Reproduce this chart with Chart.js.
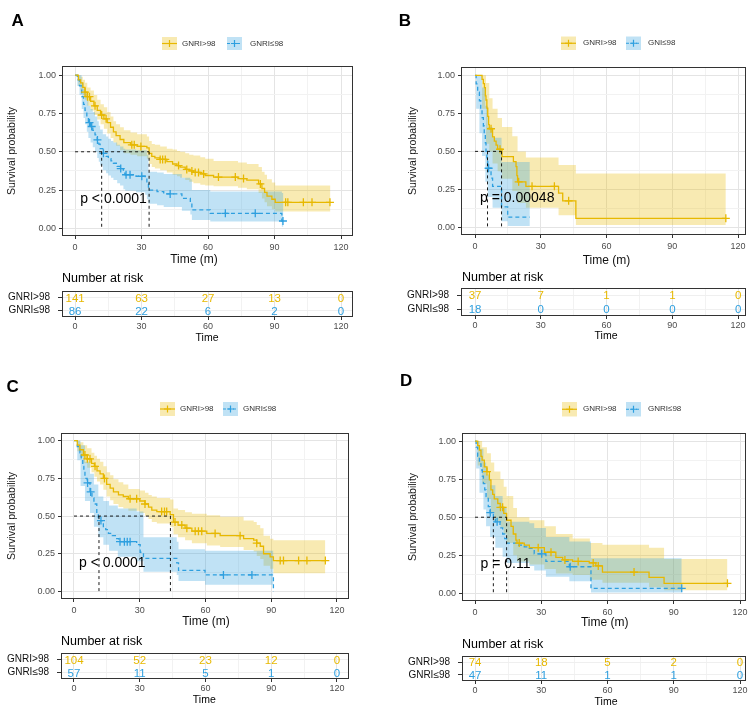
<!DOCTYPE html>
<html><head><meta charset="utf-8">
<script src="https://cdn.jsdelivr.net/npm/chart.js@4.4.1/dist/chart.umd.min.js"></script>
<style>
html,body{margin:0;padding:0;background:#fff;}
body{width:753px;height:707px;position:relative;overflow:hidden;}
canvas{position:absolute;}
</style></head><body>
<canvas id="mA"></canvas><canvas id="rA"></canvas>
<canvas id="mB"></canvas><canvas id="rB"></canvas>
<canvas id="mC"></canvas><canvas id="rC"></canvas>
<canvas id="mD"></canvas><canvas id="rD"></canvas>
<script>
// ---------- DATA ----------
const timeTicks = [0, 30, 60, 90, 120];
const xGrid = [0, 15, 30, 45, 60, 75, 90, 105, 120];
const yGrid = [0, 0.125, 0.25, 0.375, 0.5, 0.625, 0.75, 0.875, 1];
const rowLabels = ['GNRI>98', 'GNRI≤98'];

// Panel A
const aHiT = [0, 1.5, 2.5, 3.5, 4.5, 5.5, 7, 8.5, 10, 11.5, 13, 14.5, 16, 17.3, 18.5, 20.3, 22, 25, 28, 32.4, 33.4, 34.6, 36, 38.4, 41.4, 44, 46, 47.4, 49.7, 51.5, 53.4, 56.5, 58.7, 62.5, 73.5, 77.5, 82.8, 84.3, 85.5, 86.6, 88.8, 90.3, 115.2];
const aHiS = [1, 0.97, 0.95, 0.92, 0.89, 0.86, 0.83, 0.8, 0.77, 0.74, 0.715, 0.69, 0.66, 0.63, 0.605, 0.58, 0.56, 0.545, 0.535, 0.525, 0.49, 0.47, 0.46, 0.45, 0.435, 0.42, 0.41, 0.4, 0.385, 0.375, 0.365, 0.355, 0.345, 0.335, 0.325, 0.315, 0.29, 0.26, 0.235, 0.21, 0.19, 0.17, 0.17];
const aHiC = [4.5, 5.6, 6.5, 9, 12, 14, 25.6, 26.7, 29.7, 38.4, 39.5, 40.7, 46.7, 50.4, 52.7, 54.2, 55.7, 58, 64.7, 72.3, 76, 83.6, 95, 96, 103, 106.9, 115];
const aHiBandT = [0, 1.5, 2.5, 3.5, 4.5, 5.5, 7, 8.5, 10, 11.5, 13, 14.5, 16, 17.3, 18.5, 20.3, 22, 25, 28, 32.4, 33.4, 34.6, 36, 38.4, 41.4, 44, 46, 47.4, 49.7, 51.5, 53.4, 56.5, 58.7, 62.5, 73.5, 77.5, 82.8, 84.3, 85.5, 86.6, 88.8, 90.3, 115.2];
const aHiUp = [1, 1, 0.99, 0.97, 0.95, 0.92, 0.9, 0.87, 0.84, 0.81, 0.79, 0.76, 0.73, 0.7, 0.68, 0.66, 0.64, 0.625, 0.615, 0.6, 0.57, 0.55, 0.545, 0.535, 0.52, 0.515, 0.505, 0.5, 0.49, 0.48, 0.475, 0.465, 0.455, 0.44, 0.43, 0.42, 0.4, 0.37, 0.35, 0.32, 0.3, 0.28, 0.28];
const aHiLo = [1, 0.93, 0.9, 0.87, 0.84, 0.8, 0.77, 0.74, 0.71, 0.68, 0.65, 0.62, 0.59, 0.56, 0.54, 0.51, 0.49, 0.48, 0.47, 0.455, 0.42, 0.4, 0.39, 0.38, 0.365, 0.35, 0.34, 0.33, 0.315, 0.305, 0.295, 0.285, 0.28, 0.275, 0.265, 0.255, 0.23, 0.195, 0.17, 0.145, 0.125, 0.11, 0.11];
const aLoT = [0, 1, 2, 3, 3.8, 4.5, 5.3, 6, 7, 8, 9, 10, 10.7, 11.3, 12.5, 14, 15, 16.2, 17.3, 19, 20.3, 21.8, 22.6, 27.5, 31.6, 32.4, 33.1, 37, 40, 48.2, 52, 52.7, 61, 93.3, 94];
const aLoS = [1, 0.97, 0.93, 0.86, 0.81, 0.77, 0.73, 0.69, 0.665, 0.64, 0.61, 0.577, 0.55, 0.52, 0.49, 0.47, 0.455, 0.44, 0.425, 0.405, 0.39, 0.36, 0.35, 0.34, 0.327, 0.29, 0.25, 0.24, 0.225, 0.196, 0.163, 0.12, 0.098, 0.048, 0.048];
const aLoC = [6.5, 7.5, 10.1, 12.8, 20.6, 23, 24.8, 30.1, 42.9, 67.8, 81.3, 93.8];
const aLoBandT = [0, 1, 2, 3, 3.8, 4.5, 5.3, 6, 7, 8, 9, 10, 10.7, 11.3, 12.5, 14, 15, 16.2, 17.3, 19, 20.3, 21.8, 22.6, 27.5, 31.6, 32.4, 33.1, 37, 40, 48.2, 52, 52.7, 61, 93.3, 94];
const aLoUp = [1, 1, 1, 0.95, 0.91, 0.88, 0.84, 0.8, 0.78, 0.76, 0.73, 0.7, 0.67, 0.645, 0.615, 0.6, 0.585, 0.57, 0.56, 0.545, 0.535, 0.52, 0.515, 0.51, 0.51, 0.48, 0.37, 0.365, 0.355, 0.33, 0.32, 0.25, 0.24, 0.23, 0.23];
const aLoLo = [1, 0.93, 0.87, 0.78, 0.72, 0.68, 0.63, 0.59, 0.56, 0.53, 0.5, 0.46, 0.435, 0.41, 0.38, 0.36, 0.345, 0.33, 0.315, 0.295, 0.28, 0.255, 0.245, 0.235, 0.22, 0.19, 0.16, 0.15, 0.14, 0.115, 0.09, 0.055, 0.045, 0.01, 0.01];
const aMed = [33.4, 12.0];
const riskAHi = [141, 63, 27, 13, 0];
const riskALo = [86, 22, 6, 2, 0];

// Panel B
const bHiT = [0, 3.2, 3.8, 4.3, 4.7, 5.0, 5.4, 5.8, 6.2, 6.5, 8.0, 8.8, 9.6, 10.3, 12.3, 17.5, 18.7, 19.1, 19.4, 23.2, 38.1, 40, 46, 114.4];
const bHiS = [1, 0.973, 0.946, 0.919, 0.865, 0.838, 0.784, 0.73, 0.676, 0.649, 0.595, 0.568, 0.541, 0.514, 0.465, 0.432, 0.4, 0.34, 0.3, 0.27, 0.225, 0.175, 0.06, 0.06];
const bHiC = [7.3, 11.4, 19.9, 26, 36.2, 42.7, 114.4];
const bHiBandT = [0, 3.2, 5, 6.5, 8, 10.3, 12.3, 17, 19.4, 23.2, 38.1, 46, 114.4];
const bHiUp = [1, 1, 0.95, 0.85, 0.78, 0.72, 0.66, 0.6, 0.5, 0.46, 0.41, 0.355, 0.355];
const bHiLo = [1, 0.78, 0.55, 0.5, 0.42, 0.37, 0.32, 0.24, 0.16, 0.13, 0.08, 0.015, 0.015];
const bLoT = [0, 0.5, 1.2, 2, 2.6, 3.2, 3.8, 4.2, 4.7, 5.0, 5.4, 5.8, 7.3, 8.0, 12.1, 14.9, 25];
const bLoS = [1, 0.944, 0.889, 0.833, 0.778, 0.722, 0.667, 0.611, 0.556, 0.5, 0.444, 0.389, 0.324, 0.27, 0.135, 0.068, 0.068];
const bLoC = [6.2];
const bLoBandT = [0, 0.5, 2, 3.2, 4.7, 5.8, 8, 12.1, 14.9, 25];
const bLoUp = [1, 1, 1, 0.92, 0.8, 0.66, 0.59, 0.43, 0.43, 0.43];
const bLoLo = [1, 0.78, 0.62, 0.47, 0.3, 0.2, 0.13, 0.04, 0.01, 0.01];
const bMed = [12.1, 5.7];
const riskBHi = [37, 7, 1, 1, 0];
const riskBLo = [18, 0, 0, 0, 0];

// Panel C
const cHiT = [0, 1.5, 2.7, 4.3, 6, 8, 9.3, 10.5, 11.9, 13.4, 14.9, 16.5, 18, 20.3, 22.5, 24.8, 30, 32.4, 34, 35.5, 37.8, 43.9, 45.4, 47.5, 50.7, 53.8, 60.6, 66.7, 77.4, 82, 83.4, 85, 86.5, 89.5, 91, 114.7];
const cHiS = [1, 0.97, 0.94, 0.905, 0.88, 0.85, 0.83, 0.8, 0.78, 0.75, 0.71, 0.685, 0.66, 0.64, 0.63, 0.615, 0.6, 0.58, 0.56, 0.54, 0.53, 0.51, 0.46, 0.44, 0.42, 0.4, 0.385, 0.37, 0.35, 0.34, 0.32, 0.3, 0.25, 0.23, 0.205, 0.205];
const cHiC = [5, 6.1, 7.3, 9.6, 13.9, 25.6, 28.6, 32.4, 40, 41.3, 42.3, 46.1, 49.2, 51.5, 55.3, 56.8, 58.3, 64.4, 75.8, 83.4, 94.1, 95.6, 102.5, 106.3, 114.7];
const cHiBandT = [0, 1.5, 2.7, 4.3, 6, 8, 9.3, 10.5, 11.9, 13.4, 14.9, 16.5, 18, 20.3, 22.5, 24.8, 30, 32.4, 34, 35.5, 37.8, 43.9, 45.4, 47.5, 50.7, 53.8, 60.6, 66.7, 77.4, 82, 83.4, 85, 86.5, 89.5, 91, 114.7];
const cHiUp = [1, 1, 0.99, 0.97, 0.95, 0.92, 0.9, 0.88, 0.86, 0.83, 0.79, 0.77, 0.745, 0.725, 0.71, 0.68, 0.67, 0.655, 0.64, 0.63, 0.62, 0.61, 0.55, 0.54, 0.525, 0.515, 0.505, 0.495, 0.47, 0.46, 0.44, 0.42, 0.37, 0.35, 0.34, 0.34];
const cHiLo = [1, 0.93, 0.89, 0.85, 0.82, 0.79, 0.76, 0.73, 0.71, 0.675, 0.63, 0.605, 0.58, 0.56, 0.55, 0.535, 0.52, 0.5, 0.48, 0.46, 0.45, 0.43, 0.38, 0.36, 0.34, 0.32, 0.305, 0.295, 0.275, 0.265, 0.235, 0.215, 0.17, 0.15, 0.12, 0.12];
const cLoT = [0, 1.5, 2.7, 3.3, 4, 4.5, 5, 6, 7.3, 8.2, 9.1, 10.4, 11.1, 13.4, 14.5, 15.7, 17.5, 19.5, 20.5, 28.6, 30.2, 31.7, 46.9, 47.7, 59.8, 91];
const cLoS = [1, 0.96, 0.92, 0.875, 0.83, 0.79, 0.75, 0.72, 0.66, 0.62, 0.58, 0.52, 0.47, 0.43, 0.41, 0.385, 0.37, 0.35, 0.33, 0.31, 0.26, 0.22, 0.19, 0.14, 0.11, 0];
const cLoC = [6.2, 7.6, 12.3, 21, 23, 24.3, 25.6, 68.2, 81.2];
const cLoBandT = [0, 1.5, 3, 5, 7.3, 9.1, 11.1, 13.4, 16, 20, 28.6, 31.7, 46.9, 47.7, 59.8, 91];
const cLoUp = [1, 1, 0.97, 0.86, 0.78, 0.71, 0.63, 0.6, 0.57, 0.55, 0.53, 0.36, 0.33, 0.28, 0.27, 0.27];
const cLoLo = [1, 0.87, 0.7, 0.6, 0.52, 0.43, 0.36, 0.31, 0.27, 0.23, 0.2, 0.13, 0.11, 0.07, 0.045, 0.045];
const cMed = [44, 11.4];
const riskCHi = [104, 52, 23, 12, 0];
const riskCLo = [57, 11, 5, 1, 0];

// Panel D
const dHiT = [0, 1.2, 2, 2.7, 3.2, 4.2, 5.4, 6.5, 7.2, 8, 8.7, 10.3, 11.5, 13, 14.3, 16.3, 17.3, 18.5, 19, 22.3, 24.6, 31.4, 36.6, 39.7, 44.2, 51.7, 54.7, 57.7, 78.8, 85.6, 114.3];
const dHiS = [1, 0.97, 0.94, 0.9, 0.875, 0.83, 0.8, 0.745, 0.68, 0.65, 0.62, 0.59, 0.565, 0.525, 0.48, 0.44, 0.39, 0.35, 0.33, 0.317, 0.3, 0.27, 0.236, 0.22, 0.21, 0.2, 0.18, 0.14, 0.105, 0.066, 0.066];
const dHiC = [5.4, 11.5, 12.5, 20, 28.6, 34.4, 40.7, 46.7, 53.5, 55.8, 72, 114.3];
const dHiBandT = [0, 1.2, 3.2, 5.4, 7.2, 8.7, 11.5, 13, 14.3, 17.3, 19, 24.6, 31.4, 36.6, 44.2, 52, 57.7, 78.8, 85.6, 114.3];
const dHiUp = [1, 1, 0.96, 0.92, 0.86, 0.8, 0.75, 0.7, 0.64, 0.56, 0.5, 0.48, 0.44, 0.39, 0.36, 0.33, 0.32, 0.3, 0.225, 0.225];
const dHiLo = [1, 0.84, 0.72, 0.62, 0.53, 0.47, 0.43, 0.39, 0.33, 0.25, 0.21, 0.19, 0.16, 0.13, 0.12, 0.09, 0.07, 0.04, 0.02, 0.02];
const dLoT = [0, 0.5, 1.2, 2, 2.7, 3.3, 3.8, 4.4, 5, 6, 6.8, 8.3, 9.2, 11.3, 12.5, 13.4, 14.3, 19.3, 22.3, 24.6, 26.8, 32.1, 42.7, 52.5, 93.6];
const dLoS = [1, 0.96, 0.9, 0.85, 0.81, 0.77, 0.72, 0.68, 0.635, 0.57, 0.53, 0.5, 0.47, 0.43, 0.39, 0.36, 0.33, 0.317, 0.306, 0.295, 0.26, 0.21, 0.175, 0.033, 0.033];
const dLoC = [6.9, 10, 30.2, 43.1, 93.6];
const dLoBandT = [0, 0.5, 2, 3.8, 5, 6.8, 9.2, 12.5, 14.3, 24.6, 26.8, 32.1, 42.7, 52.5, 93.6];
const dLoUp = [1, 1, 0.95, 0.86, 0.78, 0.71, 0.64, 0.56, 0.47, 0.46, 0.43, 0.37, 0.34, 0.23, 0.23];
const dLoLo = [1, 0.82, 0.66, 0.55, 0.44, 0.37, 0.3, 0.24, 0.2, 0.18, 0.15, 0.11, 0.08, 0.005, 0.005];
const dMed = [14.3, 8.3];
const riskDHi = [74, 18, 5, 2, 0];
const riskDLo = [47, 11, 1, 1, 0];

// ---------- STYLE / HELPERS ----------
const F = '"Liberation Sans", Arial, Helvetica, sans-serif';
const YEL = '#E7B800', BLU = '#2E9FDF';
const YEL_F = 'rgba(231,184,0,0.30)', BLU_F = 'rgba(46,159,223,0.30)';
const NONE = 'rgba(0,0,0,0)';
Chart.defaults.font.family = F;

function pts(t, s) { return t.map((x, i) => ({x: x, y: s[i]})); }
function stepAt(t, s, x) { let v = s[0]; for (let i = 0; i < t.length; i++) { if (t[i] <= x) v = s[i]; } return v; }
function cens(t, s, c) { return c.map(x => ({x: x, y: stepAt(t, s, x)})); }
function place(cv, b) { cv.width = b.w; cv.height = b.h; cv.style.left = b.x + 'px'; cv.style.top = b.y + 'px'; cv.style.width = b.w + 'px'; cv.style.height = b.h + 'px'; }
const isMajX = v => Math.abs(v % 30) < 1e-6;
const isMajY = v => Math.abs(v * 4 - Math.round(v * 4)) < 1e-6;

function xScale(P, XH, pad) {
  return {
    type: 'linear', min: P.xmin, max: P.xmax,
    afterBuildTicks: s => { s.ticks = xGrid.map(v => ({value: v})); },
    afterFit: s => { s.height = XH; s.paddingLeft = 0; s.paddingRight = 0; },
    ticks: {autoSkip: false, maxRotation: 0, minRotation: 0, padding: pad, color: '#4d4d4d', font: {family: F, size: 9},
      callback: v => isMajX(v) ? String(v) : ''},
    grid: {color: c => (c.tick && isMajX(c.tick.value)) ? '#e4e4e4' : '#f2f2f2', lineWidth: 1, tickLength: 3,
      tickColor: c => (c.tick && isMajX(c.tick.value)) ? '#333' : NONE, tickWidth: 1},
    border: {display: false}
  };
}

function legendKey(ctx, x, y, w, h, col, fillCol, dashed) {
  ctx.fillStyle = fillCol; ctx.fillRect(x, y, w, h);
  ctx.strokeStyle = col; ctx.lineWidth = 1.2;
  ctx.setLineDash(dashed ? [3, 2] : []);
  ctx.beginPath(); ctx.moveTo(x, y + h / 2); ctx.lineTo(x + w, y + h / 2); ctx.stroke();
  ctx.setLineDash([]);
  const cx = x + w / 2, cy = y + h / 2;
  ctx.beginPath(); ctx.moveTo(cx - 3.5, cy); ctx.lineTo(cx + 3.5, cy); ctx.moveTo(cx, cy - 3.5); ctx.lineTo(cx, cy + 3.5); ctx.stroke();
}

function kmChart(id, box, plot, P) {
  const cv = document.getElementById(id); place(cv, box);
  const YW = 30, XH = 20;
  const pad = {left: plot.l - box.x - YW, top: plot.t - box.y, right: box.x + box.w - plot.r, bottom: box.y + box.h - plot.b - XH};
  const band = (d, fill, col, order) => ({data: d, stepped: true, borderWidth: 0, borderColor: NONE, pointRadius: 0, fill: fill, backgroundColor: col, order: order});
  const medLine = d => ({data: d, borderColor: '#000', borderWidth: 0.9, borderDash: [3, 3], pointRadius: 0, fill: false, order: 3});
  const ds = [
    band(pts(P.hiBandT, P.hiUp), '+1', YEL_F, 10),
    band(pts(P.hiBandT, P.hiLo), false, NONE, 10),
    band(pts(P.loBandT, P.loUp), '+1', BLU_F, 9),
    band(pts(P.loBandT, P.loLo), false, NONE, 9),
    {data: pts(P.hiT, P.hiS), stepped: true, borderColor: YEL, borderWidth: 1.3, pointRadius: 0, fill: false, order: 5},
    {data: pts(P.loT, P.loS), stepped: true, borderColor: BLU, borderWidth: 1.3, borderDash: [4, 3], pointRadius: 0, fill: false, order: 5},
    {data: cens(P.hiT, P.hiS, P.hiC), showLine: false, pointStyle: 'cross', pointRadius: 4, pointBorderColor: YEL, pointBorderWidth: 1.3, order: 4},
    {data: cens(P.loT, P.loS, P.loC), showLine: false, pointStyle: 'cross', pointRadius: 4, pointBorderColor: BLU, pointBorderWidth: 1.3, order: 4},
    medLine([{x: 0, y: 0.5}, {x: Math.max(...P.med), y: 0.5}])
  ].concat(P.med.map(m => medLine([{x: m, y: 0.5}, {x: m, y: 0}])));

  const deco = {id: 'deco' + id, afterDraw(chart) {
    const ctx = chart.ctx, a = chart.chartArea, xs = chart.scales.x, ys = chart.scales.y;
    const ox = box.x, oy = box.y;
    ctx.save();
    ctx.strokeStyle = '#333'; ctx.lineWidth = 1;
    ctx.strokeRect(a.left + 0.5, a.top + 0.5, a.right - a.left - 1, a.bottom - a.top - 1);
    ctx.fillStyle = '#000'; ctx.textAlign = 'left'; ctx.textBaseline = 'middle';
    ctx.font = '14px ' + F;
    ctx.fillText(P.pval, xs.getPixelForValue(P.pX), ys.getPixelForValue(P.pY));
    ctx.font = 'bold 17px ' + F;
    ctx.fillText(P.letter, P.letterX - ox, P.letterY - oy);
    ctx.save();
    ctx.translate(P.ytX - ox, P.ytY - oy); ctx.rotate(-Math.PI / 2);
    ctx.textAlign = 'center'; ctx.font = '10.5px ' + F; ctx.fillStyle = '#1a1a1a';
    ctx.fillText('Survival probability', 0, 0);
    ctx.restore();
    ctx.textAlign = 'center'; ctx.font = '12px ' + F; ctx.fillStyle = '#111';
    ctx.fillText('Time (m)', P.xtX - ox, P.xtY - oy);
    legendKey(ctx, P.legX[0] - ox, P.legY - oy, 15, P.legH, YEL, YEL_F, false);
    legendKey(ctx, P.legX[1] - ox, P.legY - oy, 15, P.legH, BLU, BLU_F, true);
    ctx.fillStyle = '#333'; ctx.font = '8px ' + F; ctx.textAlign = 'left'; ctx.textBaseline = 'middle';
    ctx.fillText(P.legLabels[0], P.legTX[0] - ox, P.legY + P.legH / 2 - oy);
    ctx.fillText(P.legLabels[1], P.legTX[1] - ox, P.legY + P.legH / 2 - oy);
    ctx.restore();
  }};

  new Chart(cv, {type: 'line', data: {datasets: ds}, options: {
    responsive: false, animation: false, events: [], devicePixelRatio: 1,
    layout: {padding: pad},
    plugins: {legend: {display: false}, tooltip: {enabled: false}},
    scales: {
      x: xScale(P, XH, 3),
      y: {type: 'linear', min: -0.05, max: P.ymax,
        afterBuildTicks: s => { s.ticks = yGrid.map(v => ({value: v})); },
        afterFit: s => { s.width = YW; s.paddingTop = 0; s.paddingBottom = 0; },
        ticks: {autoSkip: false, padding: 3, color: '#4d4d4d', font: {family: F, size: 9},
          callback: v => isMajY(v) ? v.toFixed(2) : ''},
        grid: {color: c => (c.tick && isMajY(c.tick.value)) ? '#e4e4e4' : '#f2f2f2', lineWidth: 1, tickLength: 3,
          tickColor: c => (c.tick && isMajY(c.tick.value)) ? '#333' : NONE},
        border: {display: false}}
    }}, plugins: [deco]});
}

function riskChart(id, box, plot, P, hi, lo) {
  const cv = document.getElementById(id); place(cv, box);
  const YW = 60, XH = 18;
  const pad = {left: plot.l - box.x - YW, top: plot.t - box.y, right: box.x + box.w - plot.r, bottom: box.y + box.h - plot.b - XH};
  const deco = {id: 'rdeco' + id, afterDraw(chart) {
    const ctx = chart.ctx, a = chart.chartArea, xs = chart.scales.x, ys = chart.scales.y;
    const ox = box.x, oy = box.y;
    ctx.save();
    ctx.strokeStyle = '#333'; ctx.lineWidth = 1;
    ctx.strokeRect(a.left + 0.5, a.top + 0.5, a.right - a.left - 1, a.bottom - a.top - 1);
    ctx.textBaseline = 'middle';
    ctx.textAlign = 'left'; ctx.fillStyle = '#000'; ctx.font = '12.5px ' + F;
    ctx.fillText('Number at risk', P.nrX - ox, P.nrY - oy);
    ctx.textAlign = 'center'; ctx.font = '11.5px ' + F;
    [hi, lo].forEach((row, r) => {
      ctx.fillStyle = r === 0 ? YEL : BLU;
      row.forEach((n, i) => ctx.fillText(String(n), xs.getPixelForValue(timeTicks[i]), ys.getPixelForValue(r) + 1));
    });
    ctx.fillStyle = '#000'; ctx.font = '10.5px ' + F;
    ctx.fillText('Time', P.rtX - ox, P.rtY - oy);
    ctx.restore();
  }};
  new Chart(cv, {type: 'line', data: {datasets: []}, options: {
    responsive: false, animation: false, events: [], devicePixelRatio: 1,
    layout: {padding: pad},
    plugins: {legend: {display: false}, tooltip: {enabled: false}},
    scales: {
      x: xScale(P, XH, 1),
      y: {type: 'category', labels: rowLabels, offset: true, min: 0, max: 1,
        afterFit: s => { s.width = YW; s.paddingTop = 0; s.paddingBottom = 0; },
        ticks: {autoSkip: false, color: '#111', font: {family: F, size: 10}, padding: 8},
        grid: {offset: false, color: '#efefef', tickLength: 4, tickColor: '#333'},
        border: {display: false}}
    }}, plugins: [deco]});
}

// ---------- PANELS ----------
const PA = {xmin: -5.9, xmax: 125.4, ymax: 1.06,
  hiT: aHiT, hiS: aHiS, hiC: aHiC, hiBandT: aHiBandT, hiUp: aHiUp, hiLo: aHiLo,
  loT: aLoT, loS: aLoS, loC: aLoC, loBandT: aLoBandT, loUp: aLoUp, loLo: aLoLo, med: aMed,
  pval: 'p < 0.0001', pX: 2.3, pY: 0.19, letter: 'A', letterX: 11.5, letterY: 21,
  ytX: 12, ytY: 151, xtX: 194, xtY: 259.5,
  legX: [162, 227], legTX: [182, 250], legY: 37, legH: 13, legLabels: ['GNRI>98', 'GNRI≤98'],
  nrX: 62, nrY: 279, rtX: 207, rtY: 338};
const PB = {xmin: -6.4, xmax: 123.6, ymax: 1.055,
  hiT: bHiT, hiS: bHiS, hiC: bHiC, hiBandT: bHiBandT, hiUp: bHiUp, hiLo: bHiLo,
  loT: bLoT, loS: bLoS, loC: bLoC, loBandT: bLoBandT, loUp: bLoUp, loLo: bLoLo, med: bMed,
  pval: 'p = 0.00048', pX: 2.3, pY: 0.19, letter: 'B', letterX: 398.7, letterY: 21,
  ytX: 413, ytY: 151, xtX: 606.5, xtY: 261,
  legX: [561, 626], legTX: [583, 648], legY: 36.5, legH: 13.5, legLabels: ['GNRI>98', 'GNI≤98'],
  nrX: 462, nrY: 278, rtX: 606, rtY: 336};
const PC = {xmin: -5.93, xmax: 125.5, ymax: 1.051,
  hiT: cHiT, hiS: cHiS, hiC: cHiC, hiBandT: cHiBandT, hiUp: cHiUp, hiLo: cHiLo,
  loT: cLoT, loS: cLoS, loC: cLoC, loBandT: cLoBandT, loUp: cLoUp, loLo: cLoLo, med: cMed,
  pval: 'p < 0.0001', pX: 2.3, pY: 0.19, letter: 'C', letterX: 6.5, letterY: 387.5,
  ytX: 12, ytY: 516, xtX: 206, xtY: 622,
  legX: [160, 223], legTX: [180, 243], legY: 402, legH: 14, legLabels: ['GNRI>98', 'GNRI≤98'],
  nrX: 61, nrY: 642, rtX: 204.3, rtY: 700};
const PD = {xmin: -5.9, xmax: 122.7, ymax: 1.053,
  hiT: dHiT, hiS: dHiS, hiC: dHiC, hiBandT: dHiBandT, hiUp: dHiUp, hiLo: dHiLo,
  loT: dLoT, loS: dLoS, loC: dLoC, loBandT: dLoBandT, loUp: dLoUp, loLo: dLoLo, med: dMed,
  pval: 'p = 0.11', pX: 2.5, pY: 0.19, letter: 'D', letterX: 400, letterY: 381.7,
  ytX: 413, ytY: 517, xtX: 604.7, xtY: 623,
  legX: [562, 626], legTX: [583, 648], legY: 402, legH: 14.5, legLabels: ['GNRI>98', 'GNRI≤98'],
  nrX: 462, nrY: 644.3, rtX: 606, rtY: 701.7};

kmChart('mA', {x: 0, y: 0, w: 376, h: 268}, {l: 62, r: 353, t: 66, b: 236}, PA);
riskChart('rA', {x: 0, y: 268, w: 376, h: 92}, {l: 62, r: 353, t: 291, b: 317}, PA, riskAHi, riskALo);
kmChart('mB', {x: 376, y: 0, w: 377, h: 268}, {l: 461, r: 746, t: 67, b: 235}, PB);
riskChart('rB', {x: 376, y: 268, w: 377, h: 92}, {l: 461, r: 746, t: 288, b: 316}, PB, riskBHi, riskBLo);
kmChart('mC', {x: 0, y: 360, w: 376, h: 272}, {l: 61, r: 349, t: 433, b: 599}, PC);
riskChart('rC', {x: 0, y: 632, w: 376, h: 75}, {l: 61, r: 349, t: 653, b: 679}, PC, riskCHi, riskCLo);
kmChart('mD', {x: 376, y: 360, w: 377, h: 272}, {l: 462, r: 746, t: 433, b: 601}, PD);
riskChart('rD', {x: 376, y: 632, w: 377, h: 75}, {l: 462, r: 746, t: 656, b: 681}, PD, riskDHi, riskDLo);
</script>
</body></html>
